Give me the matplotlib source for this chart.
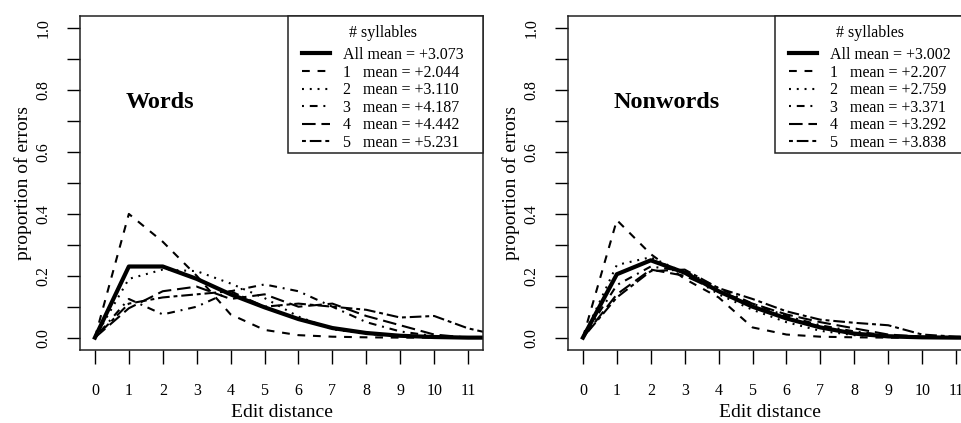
import numpy as np
import matplotlib
matplotlib.use("Agg")
import matplotlib.pyplot as plt
from matplotlib.patches import Rectangle

plt.rcParams['font.family'] = ['Liberation Serif', 'DejaVu Serif']
plt.rcParams['lines.scale_dashes'] = False

# ---------------- data ----------------
edit_distance = [0, 1, 2, 3, 4, 5, 6, 7, 8, 9, 10, 11, 12]
x_tick_labels = ['0', '1', '2', '3', '4', '5', '6', '7', '8', '9', '10', '11']
y_ticks = [0.0, 0.1, 0.2, 0.3, 0.4, 0.5, 0.6, 0.7, 0.8, 0.9, 1.0]
y_tick_labels = ['0.0', '', '0.2', '', '0.4', '', '0.6', '', '0.8', '', '1.0']

series_names = ['All', '1', '2', '3', '4', '5']

words_all = [0, 0.230, 0.230, 0.190, 0.140, 0.098, 0.060, 0.031, 0.015, 0.006, 0.002, 0.0, 0.0]
words_1 = [0, 0.400, 0.310, 0.200, 0.075, 0.025, 0.008, 0.003, 0.001, 0.0, 0.0, 0.0, 0.0]
words_2 = [0, 0.190, 0.220, 0.215, 0.175, 0.128, 0.068, 0.027, 0.012, 0.005, 0.002, 0.0, 0.0]
words_3 = [0, 0.125, 0.075, 0.100, 0.150, 0.172, 0.150, 0.100, 0.050, 0.020, 0.005, 0.0, 0.0]
words_4 = [0, 0.095, 0.150, 0.165, 0.125, 0.140, 0.100, 0.110, 0.070, 0.040, 0.010, 0.0, 0.0]
words_5 = [0, 0.110, 0.130, 0.140, 0.150, 0.100, 0.110, 0.100, 0.090, 0.065, 0.070, 0.030, 0.005]
words_means = ['+3.073', '+2.044', '+3.110', '+4.187', '+4.442', '+5.231']

nonwords_all = [0, 0.205, 0.250, 0.210, 0.150, 0.100, 0.062, 0.033, 0.013, 0.004, 0.001, 0.0, 0.0]
nonwords_1 = [0, 0.380, 0.270, 0.190, 0.130, 0.033, 0.010, 0.003, 0.001, 0.0, 0.0, 0.0, 0.0]
nonwords_2 = [0, 0.235, 0.260, 0.210, 0.140, 0.090, 0.050, 0.022, 0.008, 0.003, 0.001, 0.0, 0.0]
nonwords_3 = [0, 0.170, 0.230, 0.215, 0.160, 0.110, 0.070, 0.040, 0.020, 0.007, 0.002, 0.0, 0.0]
nonwords_4 = [0, 0.140, 0.220, 0.200, 0.150, 0.110, 0.075, 0.050, 0.030, 0.010, 0.003, 0.0, 0.0]
nonwords_5 = [0, 0.130, 0.215, 0.220, 0.160, 0.125, 0.085, 0.058, 0.048, 0.040, 0.010, 0.003, 0.0]
nonwords_means = ['+3.002', '+2.207', '+2.759', '+3.371', '+3.292', '+3.838']

panel_titles = ['Words', 'Nonwords']
x_label = 'Edit distance'
y_label = 'proportion of errors'
legend_title = '# syllables'

# ---------------- styles ----------------
u = 1.4  # dash unit in points
styles = [
    dict(lw=3.0, ls='-'),
    dict(lw=1.5, ls=(0, (4 * u, 4 * u))),
    dict(lw=1.5, ls=(0, (1 * u, 3 * u))),
    dict(lw=1.5, ls=(0, (1 * u, 3 * u, 4 * u, 3 * u))),
    dict(lw=1.5, ls=(0, (7 * u, 3 * u))),
    dict(lw=1.5, ls=(0, (2 * u, 2 * u, 6 * u, 2 * u))),
]

W, H = 961, 423
fig = plt.figure(figsize=(W / 100, H / 100), dpi=100)

ax_w = 403
ax_h = 334
bottom_px = 350
panels = [
    (80, [words_all, words_1, words_2, words_3, words_4, words_5], words_means, 288),
    (568, [nonwords_all, nonwords_1, nonwords_2, nonwords_3, nonwords_4, nonwords_5], nonwords_means, 775),
]


def fx(px, left_px):
    return (px - left_px) / ax_w


def fy(py):
    return (bottom_px - py) / ax_h


for (left_px, data, means, leg_left_px), title in zip(panels, panel_titles):
    ax = fig.add_axes([left_px / W, (H - bottom_px) / H, ax_w / W, ax_h / H])
    handles = []
    for name, ys, st, m in zip(series_names, data, styles, means):
        if name == 'All':
            lab = f'All mean = {m}'
        else:
            lab = f'{name}   mean = {m}'
        ln, = ax.plot(edit_distance, ys, color='black', linewidth=st['lw'],
                      linestyle=st['ls'], dash_capstyle='butt', label=lab)
        handles.append(ln)
    ax.set_xlim(-0.44, 11.44)
    ax.set_ylim(-0.04, 1.04)
    ax.set_xticks(range(len(x_tick_labels)))
    ax.set_xticklabels(x_tick_labels, fontsize=11.5)
    ax.set_yticks(y_ticks)
    ax.set_yticklabels(y_tick_labels, fontsize=11.5, rotation=90, va='center')
    ax.tick_params(axis='x', length=10, width=1.0, pad=14, direction='out')
    ax.tick_params(axis='y', length=9.5, width=1.0, pad=11, direction='out')
    for sp in ax.spines.values():
        sp.set_linewidth(1.1)
        sp.set_color('#222222')
    ax.set_xlabel(x_label, fontsize=14, labelpad=3)
    ax.set_ylabel(y_label, fontsize=14, labelpad=2.5)
    ax.text(0.9, 0.76, title, fontsize=17.5, fontweight='bold', ha='left', va='center')

    # legend frame
    fr = Rectangle((fx(leg_left_px, left_px), fy(153)), 1.0 - fx(leg_left_px, left_px),
                   1.0 - fy(153), transform=ax.transAxes, facecolor='white',
                   edgecolor='#222222', linewidth=1.1, zorder=4, clip_on=False)
    ax.add_patch(fr)
    handle_left = leg_left_px + 14
    ax.text(fx(handle_left + 81, left_px), fy(33), legend_title, fontsize=11.5,
            ha='center', va='center', transform=ax.transAxes, zorder=6)
    leg = ax.legend(handles=handles, loc='upper left',
                    bbox_to_anchor=(fx(handle_left, left_px), fy(47)),
                    borderaxespad=0, borderpad=0, fontsize=11.5,
                    handlelength=1.75, handletextpad=0.8,
                    labelspacing=0.1, frameon=False)
    leg.set_zorder(6)

fig.savefig('out.png', dpi=100)
